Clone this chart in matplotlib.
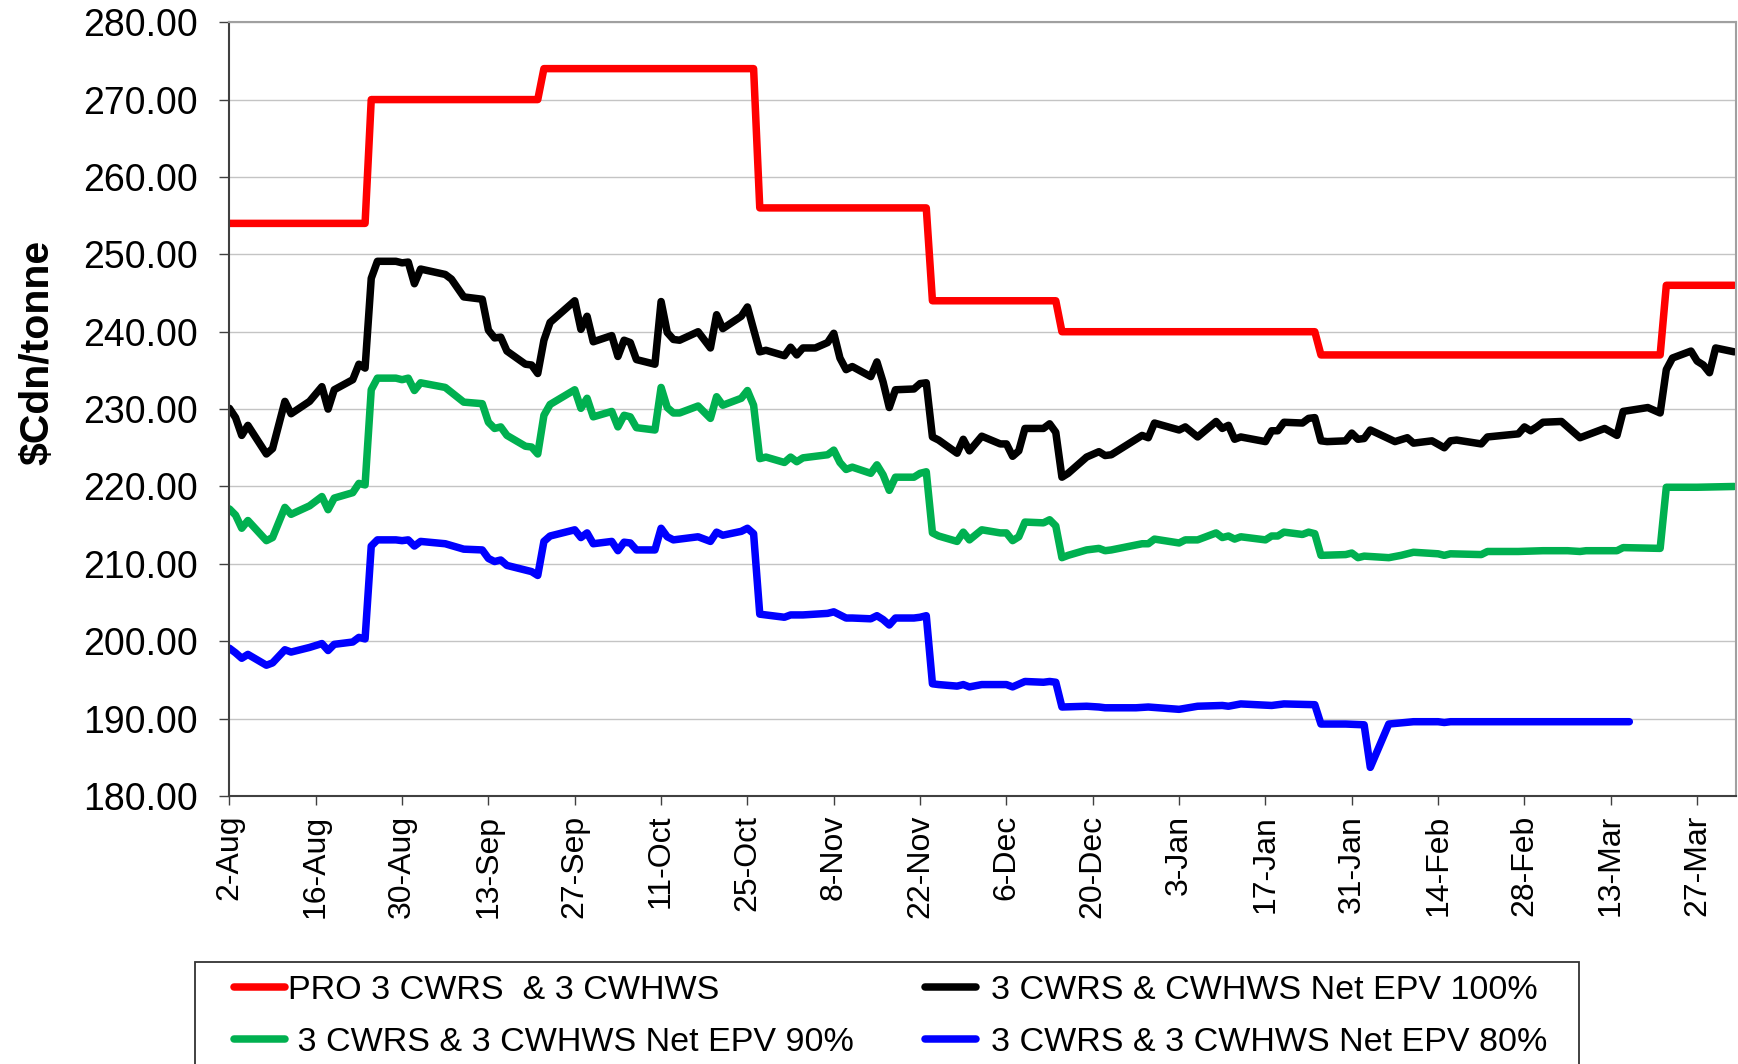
import matplotlib
matplotlib.use("Agg")
import matplotlib.pyplot as plt
from matplotlib.patches import Rectangle
from matplotlib.ticker import FormatStrFormatter
from datetime import datetime, timedelta

plt.rcParams['font.family'] = ['Liberation Sans', 'DejaVu Sans']

# ---------------- data ----------------
START_YEAR = 2003          # season Aug 2003 - Mar 2004 (leap year Feb)
FIRST_DAY = datetime(START_YEAR, 8, 2)
LAST_DAY_OFFSET = 244.3

tick_labels = ["2-Aug", "16-Aug", "30-Aug", "13-Sep", "27-Sep", "11-Oct", "25-Oct",
               "8-Nov", "22-Nov", "6-Dec", "20-Dec", "3-Jan", "17-Jan", "31-Jan",
               "14-Feb", "28-Feb", "13-Mar", "27-Mar"]

label_pro = "PRO 3 CWRS  & 3 CWHWS"
label_100 = "3 CWRS & CWHWS Net EPV 100%"
label_90 = " 3 CWRS & 3 CWHWS Net EPV 90%"
label_80 = "3 CWRS & 3 CWHWS Net EPV 80%"

# days after 2-Aug
pro_day = [0, 22, 23, 50, 51, 85, 86, 113, 114, 134, 135, 176, 177, 232, 233, 244]
pro_val = [254, 254, 270, 270, 274, 274, 256, 256, 244, 244, 240, 240, 237, 237, 246, 246]

epv100_day = [0, 1, 2, 3, 6, 7, 9, 10, 13, 15, 16, 17, 20, 21, 22, 23, 24, 27, 28, 29,
              30, 31, 35, 36, 38, 41, 42, 43, 44, 45, 48, 49, 50, 51, 52, 56, 57, 58, 59, 62,
              63, 64, 65, 66, 69, 70, 71, 72, 73, 76, 78, 79, 80, 83, 84, 86, 87, 90, 91, 92,
              93, 95, 97, 98, 99, 100, 101, 104, 105, 106, 107, 108, 111, 112, 113, 114, 115, 118, 119, 120,
              122, 125, 126, 127, 128, 129, 132, 133, 134, 135, 136, 139, 141, 142, 143, 148, 149, 150, 154, 155,
              157, 160, 161, 162, 163, 164, 168, 169, 170, 171, 174, 175, 176, 177, 178, 181, 182, 183, 184, 185,
              189, 191, 192, 195, 197, 198, 199, 203, 204, 209, 210, 211, 212, 213, 216, 218, 219, 223, 225, 226,
              230, 232, 233, 234, 237, 238, 239, 240, 241, 244]
epv100_val = [230.1, 228.9, 226.6, 227.9, 224.2, 224.9, 231.0, 229.4, 231.0, 232.9, 230.0, 232.5, 233.8, 235.8, 235.3, 246.9, 249.1, 249.1, 248.9, 249.0,
              246.2, 248.1, 247.4, 246.8, 244.5, 244.2, 240.2, 239.2, 239.3, 237.5, 235.8, 235.7, 234.6, 238.9, 241.2, 244.0, 240.3, 242.0, 238.7, 239.5,
              236.8, 238.9, 238.6, 236.4, 235.8, 243.9, 239.9, 239.0, 238.9, 240.0, 237.9, 242.2, 240.4, 242.0, 243.2, 237.4, 237.6, 236.9, 238.0, 237.0,
              237.9, 237.9, 238.6, 239.8, 236.6, 235.1, 235.5, 234.2, 236.1, 233.5, 230.2, 232.5, 232.6, 233.3, 233.4, 226.4, 226.0, 224.3, 226.1, 224.6,
              226.5, 225.5, 225.5, 223.9, 224.6, 227.5, 227.5, 228.1, 227.0, 221.2, 221.7, 223.8, 224.5, 224.0, 224.1, 226.6, 226.3, 228.2, 227.3, 227.7,
              226.4, 228.4, 227.5, 227.9, 226.1, 226.4, 225.8, 227.2, 227.2, 228.3, 228.2, 228.8, 228.9, 225.9, 225.8, 225.9, 226.9, 226.1, 226.2, 227.3,
              225.8, 226.3, 225.6, 225.9, 225.0, 225.9, 226.0, 225.5, 226.4, 226.8, 227.7, 227.2, 227.7, 228.3, 228.4, 227.0, 226.3, 227.5, 226.6, 229.7,
              230.2, 229.5, 235.1, 236.6, 237.5, 236.2, 235.7, 234.7, 237.9, 237.4]

epv90_day = [0, 1, 2, 3, 6, 7, 9, 10, 13, 15, 16, 17, 20, 21, 22, 23, 24, 27, 28, 29,
             30, 31, 35, 38, 41, 42, 43, 44, 45, 48, 49, 50, 51, 52, 56, 57, 58, 59, 62, 63,
             64, 65, 66, 69, 70, 71, 72, 73, 76, 78, 79, 80, 83, 84, 85, 86, 87, 90, 91, 92,
             93, 97, 98, 99, 100, 101, 104, 105, 106, 107, 108, 111, 112, 113, 114, 115, 118, 119, 120, 122,
             125, 126, 127, 128, 129, 132, 133, 134, 135, 136, 139, 141, 142, 143, 148, 149, 150, 154, 155, 157,
             160, 161, 162, 163, 164, 168, 169, 170, 171, 174, 175, 176, 177, 181, 182, 183, 184, 188, 190, 192,
             196, 197, 198, 203, 204, 209, 213, 217, 219, 220, 225, 226, 232, 233, 238, 244]
epv90_val = [217.1, 216.3, 214.6, 215.6, 213.0, 213.4, 217.3, 216.4, 217.5, 218.7, 217.0, 218.5, 219.2, 220.4, 220.2, 232.5, 234.0, 234.0, 233.8, 234.0,
             232.4, 233.4, 232.8, 230.9, 230.7, 228.3, 227.5, 227.7, 226.6, 225.2, 225.1, 224.2, 229.2, 230.6, 232.5, 230.1, 231.4, 229.0, 229.7, 227.7,
             229.2, 229.0, 227.6, 227.3, 232.8, 230.2, 229.5, 229.5, 230.4, 228.8, 231.6, 230.5, 231.4, 232.4, 230.5, 223.6, 223.8, 223.1, 223.8, 223.2,
             223.7, 224.1, 224.7, 223.1, 222.2, 222.5, 221.7, 222.8, 221.5, 219.5, 221.2, 221.2, 221.7, 221.9, 214.0, 213.6, 212.9, 214.1, 213.1, 214.4,
             214.0, 214.0, 213.0, 213.5, 215.4, 215.3, 215.7, 214.9, 210.8, 211.1, 211.8, 212.0, 211.7, 211.8, 212.6, 212.6, 213.2, 212.7, 213.1, 213.1,
             214.0, 213.4, 213.6, 213.2, 213.5, 213.1, 213.6, 213.6, 214.1, 213.8, 214.1, 213.9, 211.1, 211.2, 211.4, 210.8, 211.0, 210.8, 211.1, 211.5,
             211.3, 211.1, 211.3, 211.2, 211.6, 211.6, 211.7, 211.7, 211.6, 211.7, 211.7, 212.1, 212.0, 219.9, 219.9, 220.0]

epv80_day = [0, 1, 2, 3, 6, 7, 9, 10, 13, 15, 16, 17, 20, 21, 22, 23, 24, 27, 28, 29,
             30, 31, 35, 38, 41, 42, 43, 44, 45, 49, 50, 51, 52, 56, 57, 58, 59, 62, 63, 64,
             65, 66, 69, 70, 71, 72, 76, 78, 79, 80, 83, 84, 85, 86, 87, 90, 91, 93, 97, 98,
             100, 101, 104, 105, 106, 107, 108, 111, 112, 113, 114, 115, 118, 119, 120, 122, 126, 127, 129, 132,
             133, 134, 135, 139, 141, 142, 147, 149, 154, 157, 161, 162, 164, 169, 171, 176, 177, 181, 184, 185,
             188, 192, 196, 197, 198, 203, 213, 227]
epv80_val = [199.1, 198.5, 197.8, 198.3, 196.9, 197.2, 198.9, 198.6, 199.2, 199.7, 198.8, 199.6, 199.9, 200.5, 200.3, 212.3, 213.1, 213.1, 213.0, 213.1,
             212.3, 212.9, 212.6, 211.9, 211.8, 210.7, 210.3, 210.5, 209.8, 209.0, 208.5, 212.9, 213.6, 214.4, 213.4, 214.0, 212.6, 212.9, 211.7, 212.8,
             212.7, 211.8, 211.8, 214.6, 213.5, 213.1, 213.5, 212.9, 214.1, 213.7, 214.2, 214.6, 213.9, 203.5, 203.4, 203.1, 203.4, 203.4, 203.6, 203.8,
             203.0, 203.0, 202.9, 203.3, 202.8, 202.1, 203.0, 203.0, 203.1, 203.3, 194.5, 194.4, 194.2, 194.4, 194.1, 194.4, 194.4, 194.1, 194.8, 194.7,
             194.8, 194.7, 191.5, 191.6, 191.5, 191.4, 191.4, 191.5, 191.2, 191.6, 191.7, 191.6, 191.9, 191.7, 191.9, 191.8, 189.3, 189.3, 189.2, 183.7,
             189.3, 189.6, 189.6, 189.5, 189.6, 189.6, 189.6, 189.6]

y_ticks = [180, 190, 200, 210, 220, 230, 240, 250, 260, 270, 280]
y_label = r"\$Cdn/tonne"

# ---------------- helpers ----------------
MONTHS = {"Jan": 1, "Feb": 2, "Mar": 3, "Apr": 4, "May": 5, "Jun": 6,
          "Jul": 7, "Aug": 8, "Sep": 9, "Oct": 10, "Nov": 11, "Dec": 12}


def label_to_date(lbl):
    d, m = lbl.split("-")
    mon = MONTHS[m]
    year = START_YEAR if mon >= 8 else START_YEAR + 1
    return datetime(year, mon, int(d))


def to_dates(days):
    return [FIRST_DAY + timedelta(days=d) for d in days]


# ---------------- figure ----------------
W_PX, H_PX = 1738, 1064
fig = plt.figure(figsize=(W_PX / 100, H_PX / 100), dpi=100)
ax = fig.add_axes([229.4 / W_PX, 1 - 796 / H_PX, (1736 - 229.4) / W_PX, (796 - 22.2) / H_PX])

line_kw = dict(lw=5.4, solid_capstyle='round', solid_joinstyle='round')
l_pro, = ax.plot(to_dates(pro_day), pro_val, color='#FF0000', label=label_pro, **line_kw)
l_100, = ax.plot(to_dates(epv100_day), epv100_val, color='#000000', label=label_100, **line_kw)
l_90, = ax.plot(to_dates(epv90_day), epv90_val, color='#00B050', label=label_90, **line_kw)
l_80, = ax.plot(to_dates(epv80_day), epv80_val, color='#0000FF', label=label_80, **line_kw)

ax.set_xlim(FIRST_DAY, FIRST_DAY + timedelta(days=LAST_DAY_OFFSET))
ax.set_ylim(y_ticks[0], y_ticks[-1])

ax.set_yticks(y_ticks)
ax.yaxis.set_major_formatter(FormatStrFormatter('%.2f'))
ax.set_xticks([label_to_date(t) for t in tick_labels])
ax.set_xticklabels(tick_labels, rotation=90)

ax.yaxis.grid(True, color='#c4c4c4', lw=1.0)
ax.set_axisbelow(True)

for s in ('left', 'bottom'):
    ax.spines[s].set_color('#404040')
    ax.spines[s].set_linewidth(1.5)
for s in ('top', 'right'):
    ax.spines[s].set_color('#a0a0a0')
    ax.spines[s].set_linewidth(1.5)

ax.tick_params(axis='y', direction='out', length=7, width=1.0, pad=16,
               labelsize=27, color='#404040')
ax.tick_params(axis='x', direction='out', length=6.5, width=1.0, pad=7,
               labelsize=23, color='#404040')

fig.text(37 / W_PX, 1 - 352 / H_PX, y_label, rotation=90, ha='center', va='center',
         fontsize=29.5, fontweight='bold')

# ---------------- legend ----------------
leg_kw = dict(loc='upper left', bbox_transform=fig.transFigure, frameon=False,
              fontsize=24.5, handlelength=1.5, labelspacing=0.62, borderpad=0,
              borderaxespad=0)
fig.legend(handles=[l_pro, l_90], labels=[label_pro, label_90],
           bbox_to_anchor=(234 / W_PX, 1 - 975 / H_PX), handletextpad=0.1, **leg_kw)
fig.legend(handles=[l_100, l_80], labels=[label_100, label_80],
           bbox_to_anchor=(925 / W_PX, 1 - 975 / H_PX), handletextpad=0.43, **leg_kw)

frame = Rectangle((195 / W_PX, -0.1), (1579 - 195) / W_PX, 0.1 + (1 - 962 / H_PX),
                  transform=fig.transFigure, fill=False, ec='#333333', lw=1.3)
fig.add_artist(frame)

fig.savefig('out.png', dpi=100)
